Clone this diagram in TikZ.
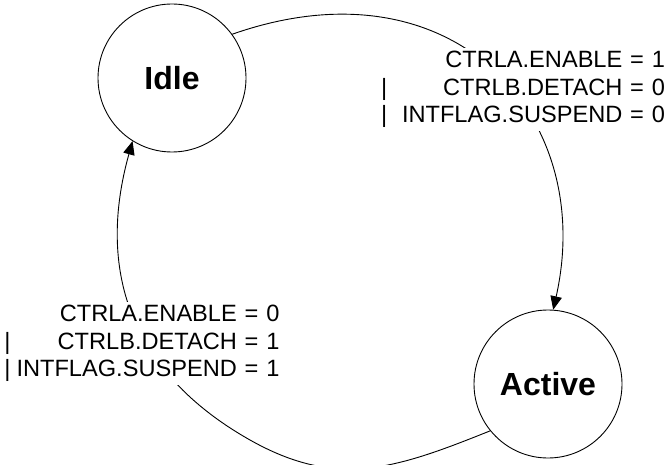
\documentclass[tikz,border=0pt]{standalone}
\usepackage{fontspec}
\setmainfont{Liberation Sans}
\usepackage{tikz}
\usetikzlibrary{arrows.meta}
\newcommand{\orbar}{|\hskip 0pt plus 1fill\relax}

\begin{document}
\begin{tikzpicture}[
  x=1pt,y=-1pt,
  state/.style={draw,circle,line width=0.9pt,minimum size=148pt,inner sep=0pt,
                font=\fontsize{32}{38}\selectfont\bfseries},
  cond/.style ={fill=white,inner sep=3pt,align=right,
                font=\fontsize{23.6}{27.5}\selectfont},
  arr/.style  ={-{Triangle[length=13.5pt,width=11.5pt]},line width=0.9pt},
]
\useasboundingbox (0,0) rectangle (671,465);
\node[state] (idle)   at (172,78)  {Idle};
\node[state] (active) at (548,384) {Active};

\draw[arr] (idle.36) .. controls (452,-43) and (597,115) .. (active.86);
\draw[arr] (active.219) .. controls (395,469) and (337,489) .. (250,440)
                        .. controls (128,371) and (97,268) .. (idle.238);

\node[cond,text width=284pt] (enable) at (523,89.4)
  {CTRLA.ENABLE = 1\\ \orbar CTRLB.DETACH = 0\\ \orbar INTFLAG.SUSPEND = 0};
\node[cond,text width=275pt] (disable) at (142,343.4)
  {CTRLA.ENABLE = 0\\ \orbar CTRLB.DETACH = 1\\ \orbar INTFLAG.SUSPEND = 1};
\end{tikzpicture}
\end{document}
